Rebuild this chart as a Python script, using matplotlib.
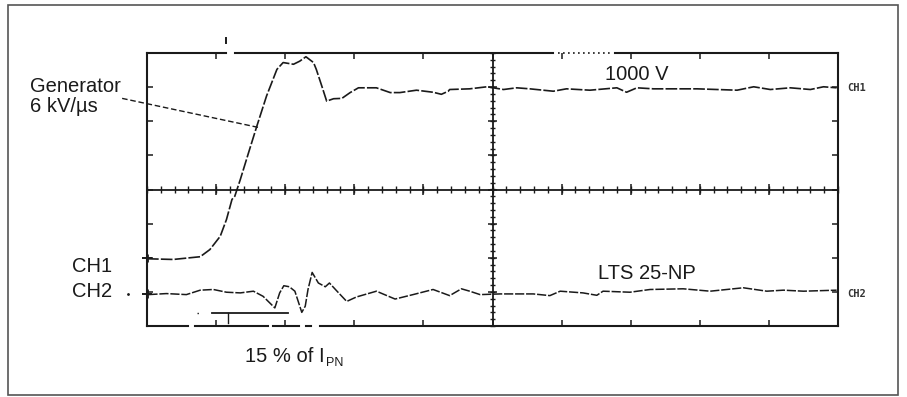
import numpy as np
import matplotlib.pyplot as plt
from matplotlib.patches import Rectangle

plt.rcParams['font.family'] = ['Liberation Sans', 'DejaVu Sans']

# CH1: generator voltage (screen divisions)
ch1_x = [0.0, 0.38, 0.77, 0.91, 1.06, 1.15, 1.23, 1.27, 1.35, 1.47, 1.59, 1.73,
         1.88, 1.97, 2.12, 2.21, 2.30, 2.41, 2.45, 2.53, 2.60, 2.70, 2.82, 2.94,
         3.06, 3.32, 3.52, 3.66, 3.90, 4.14, 4.26, 4.36, 4.38, 4.67, 4.92, 5.16,
         5.35, 5.54, 5.88, 6.07, 6.41, 6.80, 6.94, 7.09, 7.33, 7.96, 8.25, 8.54,
         8.78, 9.02, 9.31, 9.60, 9.79, 9.98]
ch1_y = [-2.03, -2.05, -1.97, -1.76, -1.37, -0.88, -0.29, -0.2, 0.29, 1.08, 1.86, 2.74,
         3.52, 3.72, 3.67, 3.76, 3.89, 3.72, 3.52, 3.03, 2.59, 2.66, 2.67, 2.84,
         2.98, 2.98, 2.84, 2.84, 2.91, 2.85, 2.79, 2.88, 2.93, 2.95, 3.01, 2.93,
         2.98, 2.95, 2.88, 2.95, 2.91, 2.98, 2.85, 2.98, 2.95, 2.95, 2.93, 2.91,
         3.01, 2.93, 2.98, 2.93, 3.01, 2.98]

# CH2: LTS 25-NP output
ch2_x = [0.02, 0.28, 0.57, 0.77, 0.96, 1.15, 1.35, 1.54, 1.68, 1.85, 1.92, 1.98,
         2.06, 2.14, 2.24, 2.29, 2.33, 2.39, 2.48, 2.58, 2.64, 2.75, 2.89, 3.03,
         3.32, 3.59, 3.85, 4.14, 4.38, 4.55, 4.67, 4.82, 5.11, 5.59, 5.83, 5.98,
         6.31, 6.51, 6.60, 6.99, 7.28, 7.76, 8.15, 8.63, 8.97, 9.21, 9.50, 9.98]
ch2_y = [-3.08, -3.05, -3.08, -2.95, -2.93, -3.01, -3.03, -2.98, -3.13, -3.47, -3.03, -2.82,
         -2.85, -2.98, -3.60, -3.42, -2.93, -2.43, -2.74, -2.85, -2.74, -2.98, -3.28, -3.15,
         -2.98, -3.21, -3.08, -2.93, -3.11, -2.91, -2.98, -3.08, -3.06, -3.06, -3.11, -2.98,
         -3.03, -3.10, -2.98, -3.01, -2.93, -2.91, -2.98, -2.88, -2.98, -2.95, -2.98, -2.95]

ch1_ground = -2.0
ch2_ground = -3.05
cursor_x = [0.94, 2.04]
cursor_y = -3.62

W, H = 907, 397
def fx(px):
    return px / W
def fy(py):
    return 1 - py / H

fig = plt.figure(figsize=(W / 100, H / 100), dpi=100)
fig.add_artist(Rectangle((fx(8), fy(395)), fx(898) - fx(8), fy(5) - fy(395),
                         transform=fig.transFigure, fill=False, lw=1.2, ec='#555555'))

ax = fig.add_axes([fx(147), fy(326), (838 - 147) / W, (326 - 53) / H])
ax.set_xlim(0, 10)
ax.set_ylim(-4, 4)
ax.axis('off')

ink = '#1a1a1a'
kw = dict(color=ink, clip_on=False)

# graticule border (scan has a few gaps)
for a, b in [(0, 1.15), (1.27, 5.87), (6.77, 10)]:
    ax.plot([a, b], [4, 4], lw=1.5, **kw)
ax.plot([5.95, 6.7], [4, 4], lw=1.2, ls=(0, (1, 2)), **kw)
ax.plot([1.14, 1.14], [4.29, 4.44], lw=1.4, **kw)
for a, b in [(0, 0.6), (0.7, 1.75), (1.82, 2.2), (2.3, 2.38), (2.5, 10)]:
    ax.plot([a, b], [-4, -4], lw=1.5, **kw)
ax.plot([0, 0], [-4, 4], lw=1.5, **kw)
ax.plot([10, 10], [-4, 4], lw=1.5, **kw)

major_x = np.arange(1, 10)
major_y = np.arange(-3, 4)
minor_x = np.arange(0, 10.01, 0.2)
minor_y = np.arange(-4, 4.01, 0.2)
ax.vlines(major_x, 4 - 0.18, 4, lw=1.1, **kw)
ax.vlines(major_x, -4, -4 + 0.18, lw=1.1, **kw)
ax.hlines(major_y, 0, 0.09, lw=1.1, **kw)
ax.hlines(major_y, 10 - 0.09, 10, lw=1.1, **kw)

# centre lines with divisions
ax.plot([0, 10], [0, 0], lw=1.3, **kw)
ax.vlines(major_x, -0.15, 0.15, lw=1.1, **kw)
ax.vlines(minor_x, -0.09, 0.09, lw=1.0, **kw)
ax.plot([5, 5], [-4, 4], lw=1.3, **kw)
ax.hlines(major_y, 5 - 0.07, 5 + 0.07, lw=1.1, **kw)
ax.hlines(minor_y, 5 - 0.035, 5 + 0.035, lw=1.0, **kw)

# ground markers
for g in [ch1_ground, ch2_ground]:
    ax.hlines(g, -0.07, 0.07, lw=1.4, **kw)
    ax.vlines(0, g - 0.12, g + 0.12, lw=2.0, **kw)

# traces
ax.plot(ch1_x, ch1_y, lw=1.2, ls=(0, (7, 1.3)), **kw)
ax.plot(ch2_x, ch2_y, lw=1.1, ls=(0, (6, 1.2)), **kw)

# cursor
ax.plot(cursor_x, [cursor_y, cursor_y], lw=1.3, **kw)
ax.plot([1.17, 1.17], [cursor_y, cursor_y - 0.28], lw=1.0, **kw)
ax.plot([0.72, 0.76], [cursor_y, cursor_y], lw=1.0, ls=(0, (1, 1.5)), **kw)
ax.plot([-0.27], [ch2_ground], marker='.', ms=2, **kw)

# generator leader line
ax.plot([-0.36, 1.61], [2.67, 1.82], lw=1.0, ls=(0, (4, 2)), **kw)

fs = 14.5
tk = dict(fontsize=fs, color=ink, va='baseline', ha='left')
fig.text(fx(30), fy(92), 'Generator', **tk)
fig.text(fx(30), fy(112), '6 kV/\u00b5s', **tk)
fig.text(fx(605), fy(80), '1000 V', **tk)
fig.text(fx(598), fy(279), 'LTS 25-NP', **tk)
fig.text(fx(72), fy(272), 'CH1', **tk)
fig.text(fx(72), fy(297), 'CH2', **tk)
t = fig.text(fx(245), fy(362), '15 % of I', **tk)
ax.annotate('PN', xy=(1, 0), xycoords=t, xytext=(1, 0), textcoords='offset points',
            fontsize=9, color=ink, va='baseline', ha='left')

sk = dict(fontsize=7.5, color='#333333', va='center', ha='left',
          family='DejaVu Sans Mono', weight='bold')
fig.text(fx(847), fy(88), 'CH1', **sk)
fig.text(fx(847), fy(294), 'CH2', **sk)

fig.savefig('out.png', dpi=100)
